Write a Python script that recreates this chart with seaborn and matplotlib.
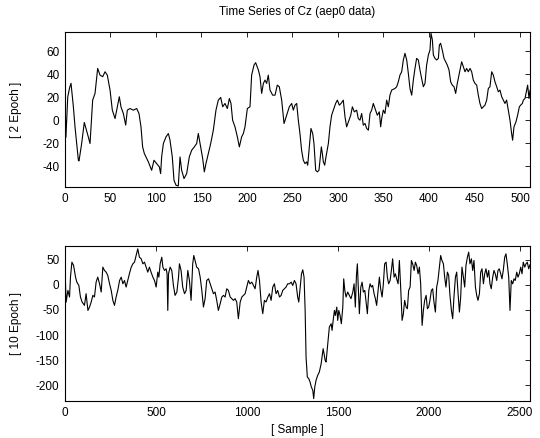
import matplotlib
matplotlib.use("Agg")
import matplotlib.pyplot as plt
import seaborn as sns
import pandas as pd

# ---------------- data ----------------
top_sample = [
    0, 1, 3, 5, 6.6, 9.2, 11, 14.7, 15.4, 18.3,
    21.2, 25.6, 27.5, 30.4, 33, 35.9, 38.5, 41.4, 44, 46.5,
    49.5, 52, 55, 56.8, 59.7, 61.5, 64.1, 66.7, 68.5, 71.4,
    75.1, 78.8, 81.3, 83.5, 85.3, 87.2, 89, 91.6, 95.2, 97.8,
    100.7, 103.7, 105.1, 106.2, 108.1, 111, 113.6, 115.4, 117.9, 119.8,
    122, 124.5, 126.4, 128.2, 130.8, 133.7, 136.6, 139.2, 142.1, 144.7,
    146.5, 148.4, 151.3, 153.1, 154.9, 157.5, 160.1, 163, 165.9, 168.5,
    171.1, 173.3, 175.8, 178.4, 180.6, 182.4, 184.2, 186.8, 189.4, 191.6,
    194.1, 196, 197.8, 200.4, 203.3, 205.1, 207.7, 209.5, 212.5, 214.3,
    216.1, 218, 219.8, 221.6, 223.4, 225.3, 228.2, 230.8, 233.3, 235.5,
    238.1, 240.7, 243.6, 246.5, 249.1, 250.9, 252.7, 254.6, 256.4, 258.2,
    260, 261.9, 263.7, 265.6, 266.7, 268.5, 270.3, 272.2, 273.6, 275.5,
    277.3, 279.1, 280.2, 281.7, 282.8, 283.9, 285.4, 286.8, 289.4, 291.2,
    293, 294.9, 297.4, 299.3, 301.5, 303.3, 305.8, 307.7, 309.5, 312.1,
    314, 315.8, 318, 320.5, 322.3, 324.2, 326, 327.8, 329.7, 331.5,
    333.4, 335.2, 337, 338.8, 340.7, 343.2, 345.4, 346.9, 348, 349.8,
    351.6, 353.5, 355.3, 357.1, 359, 362.6, 364.5, 366.3, 368.1, 370,
    371.8, 373.6, 375.5, 377.3, 379.1, 381, 382.8, 384.6, 386.4, 388.3,
    390.1, 391.9, 393.8, 395.6, 397.4, 399.3, 401.1, 402.2, 403.7, 404.8,
    406.6, 408.4, 410.3, 411.4, 412.8, 415, 416.5, 418.3, 420.1, 422,
    423.8, 425.6, 427.5, 429.3, 431.1, 433.3, 435.9, 437.7, 439.6, 441.4,
    443.2, 445.1, 446.9, 448.7, 450.5, 452.4, 454.2, 456, 457.9, 459.7,
    461.5, 463.4, 465.2, 467, 468.9, 470.7, 472.5, 474.4, 476.2, 478,
    479.9, 481.7, 483.5, 485.3, 487.2, 489, 490.8, 491.9, 493.4, 495.6,
    497.4, 499.3, 500.7, 502.6, 503.7, 505.5, 507.3, 508.4, 509.9, 511,
]
top_value = [
    20, -15, 20, 28, 32, 11.6, -5.8, -34.8, -35.4, -20.3,
    -2, -14.5, -20.3, 17.4, 23.2, 44.9, 39.1, 37.7, 42, 39.1,
    26.1, 8.7, 1.4, 8.7, 20.3, 11.6, 5.8, -4.3, 8.7, 10.1,
    8.7, 10.1, 5.8, -5.8, -23.2, -29, -31.9, -36.2, -43.5, -34.8,
    -37.7, -40.6, -46.4, -31.9, -20.3, -14.5, -11.6, -17.4, -31.9, -52.2,
    -56.5, -57.1, -31.9, -43.5, -50.7, -46.4, -31.9, -26.1, -23.2, -20.3,
    -11.6, -20.3, -33.3, -44.9, -37.7, -29, -20.3, -8.7, 8.7, 17.4,
    19.7, 11.6, 14.5, 10.1, 18.8, 14.5, 0, -5.8, -14.5, -23.2,
    -14.5, -11.6, -5.8, 10.1, 11.6, 39.1, 47.8, 49.9, 43.5, 37.7,
    23.2, 31.9, 34.8, 31.9, 39.1, 26.1, 21.7, 21.7, 30.4, 29,
    17.4, -2.9, 4.3, 11.6, 14.5, 8.7, 13, 14.5, 0, -11.6,
    -26.1, -34.8, -37.7, -36.2, -39.1, -23.2, -7.2, -11.6, -20.3, -43.5,
    -44.9, -43.5, -34.8, -23.2, -29, -36.2, -39.1, -31.9, -20.3, -5.8,
    4.3, 8.7, 14.5, 17.4, 13, 14.5, 17.4, 2.9, -5.8, 0,
    4.3, 11.6, 7.2, 8.7, 1.4, 0, 5.8, -4.3, -2.9, -7.2,
    -8.7, 5.8, 8.7, 14.5, 10.1, 4.3, 7.2, -5.8, 1.4, 8.7,
    5.8, 17.4, 11.6, 21.7, 26.1, 27.5, 29, 33.3, 39.1, 42,
    52.2, 58, 52.2, 40.6, 27.5, 21.7, 34.8, 44.9, 53.6, 52.2,
    43.5, 36.2, 29, 31.9, 47.8, 56.5, 60.9, 75.4, 69.6, 56.5,
    53.6, 52.2, 53.6, 65.2, 66.7, 59.4, 53.6, 50.7, 47.8, 43.5,
    33.3, 30.4, 29, 23.2, 31.9, 40.6, 50.7, 46.4, 42, 44.9,
    42, 44.9, 42, 34.8, 31.9, 30.4, 21.7, 14.5, 10.1, 11.6,
    13, 17.4, 27.5, 29, 42, 39.1, 33.3, 29, 24.6, 26.1,
    20.3, 17.4, 14.5, 17.4, 8.7, 0, -11.6, -17.4, -5.8, -1.4,
    4.3, 11.6, 13, 14.5, 17.4, 18.8, 26.1, 30.4, 18.8, 26,
]

bottom_sample = [
    0, 6, 16, 25, 30, 38, 47, 58, 65, 76,
    85, 94, 107, 116, 126, 135, 144, 153, 162, 171,
    180, 190, 199, 208, 217, 226, 235, 245, 254, 263,
    272, 281, 290, 300, 309, 318, 327, 336, 345, 354,
    364, 373, 382, 391, 400, 409, 419, 428, 437, 446,
    455, 464, 473, 483, 492, 501, 510, 516, 523, 532,
    538, 547, 556, 561, 565, 569, 578, 587, 596, 605,
    615, 624, 629, 638, 647, 657, 666, 675, 684, 693,
    702, 708, 715, 724, 734, 743, 752, 761, 770, 779,
    789, 798, 807, 816, 825, 834, 843, 853, 862, 871,
    880, 889, 898, 908, 917, 926, 935, 944, 953, 963,
    972, 981, 990, 999, 1008, 1017, 1027, 1036, 1045, 1054,
    1061, 1069, 1078, 1087, 1096, 1105, 1115, 1124, 1133, 1142,
    1151, 1160, 1169, 1179, 1188, 1197, 1206, 1215, 1224, 1234,
    1243, 1252, 1261, 1270, 1279, 1285, 1292, 1300, 1307, 1314,
    1320, 1325, 1332, 1340, 1347, 1354, 1362, 1367, 1373, 1380,
    1389, 1398, 1408, 1413, 1419, 1424, 1430, 1435, 1441, 1446,
    1453, 1463, 1468, 1474, 1481, 1486, 1494, 1499, 1505, 1512,
    1519, 1527, 1532, 1538, 1545, 1554, 1563, 1572, 1582, 1589,
    1596, 1602, 1607, 1613, 1618, 1626, 1633, 1640, 1648, 1655,
    1662, 1670, 1677, 1684, 1691, 1699, 1706, 1713, 1721, 1728,
    1735, 1743, 1750, 1757, 1765, 1772, 1779, 1787, 1794, 1801,
    1809, 1816, 1823, 1831, 1838, 1845, 1853, 1860, 1867, 1875,
    1882, 1889, 1897, 1904, 1911, 1919, 1926, 1933, 1941, 1948,
    1955, 1963, 1970, 1977, 1985, 1992, 1999, 2006, 2014, 2021,
    2028, 2036, 2043, 2050, 2058, 2065, 2072, 2080, 2087, 2094,
    2102, 2109, 2116, 2124, 2131, 2138, 2146, 2153, 2160, 2168,
    2175, 2182, 2190, 2197, 2204, 2212, 2219, 2226, 2234, 2241,
    2248, 2256, 2263, 2270, 2278, 2285, 2292, 2300, 2307, 2314,
    2322, 2329, 2336, 2343, 2351, 2358, 2365, 2373, 2380, 2387,
    2395, 2402, 2409, 2417, 2424, 2431, 2439, 2446, 2453, 2461,
    2468, 2475, 2483, 2490, 2497, 2505, 2512, 2519, 2527, 2534,
    2541, 2549, 2556,
]
bottom_value = [
    35.3, -34.7, -11.2, -24.4, 15.1, 44.9, 38.6, 15.1, 5.2, -1.3,
    -24.4, -34.3, -41, -17.8, -51, -44.3, -34.3, -21.1, -24.4, 5.2,
    15.1, 1.9, -14.5, 35, 28.4, 25.1, 18.5, 1.9, -11.2, -31,
    -41, -24.4, -11.2, 8.5, 15.1, 1.9, 8.5, -4.6, 8.5, 21.8,
    35, 41.6, 44.9, 58.1, 71.4, 54.8, 51.5, 41.6, 44.9, 35,
    25.1, 35, 25.1, 15.1, 8.5, -4.6, 25.1, 15.1, 41.6, 54.8,
    35, 28.4, 31.7, 21.8, -51, 21.8, 35, 28.4, -1.4, -21.1,
    -14.5, 15.1, 41.6, 28.4, -4.6, -17.8, -11.2, 28.4, 8.5, -31,
    41.6, 58.1, 48.2, 35, 31.7, 15.1, -11.2, -44.3, -27.7, 8.5,
    11.8, 1.9, -8, -17.8, -14.5, -31, -51, -37.6, -24.4, -21.1,
    -24.4, -8, -11.2, -24.4, -27.7, -31, -27.7, -34.3, -67.4, -34.3,
    -24.4, -21.1, -17.8, -4.6, 8.5, 1.9, 5.2, -1.3, -8, 15.1,
    28.4, 8.5, -34.3, -57.5, -31, -34.3, -24.4, -17.8, -31, -4.6,
    1.9, -17.8, -11.2, -24.4, -21.1, -11.2, -8, -4.6, 1.9, 1.9,
    5.2, -1.4, 8.5, 1.9, -24.4, -34.3, -8, 21.8, 29.7, 15.1,
    -51, -143.6, -183.3, -186.6, -193.2, -203.1, -209.7, -226.3, -203.1, -189.9,
    -180, -173.4, -156.9, -143.6, -127.1, -137, -150.2, -153.5, -130.4, -110.6,
    -84.1, -77.5, -90.7, -70.9, -51, -61, -44.4, -70.9, -51, -61,
    -77.5, -44.4, 11.8, -11.2, -24.4, -14.5, -21.1, -27.7, -14.5, 1.9,
    -44.4, 18.5, 41.6, -14.5, -57.5, -4.6, 5.2, -14.5, -11.2, -34.3,
    -57.5, -11.2, 1.9, -4.6, -1.3, -17.8, -27.7, -41, -11.2, 15.1,
    -8, -24.4, 1.9, 41.6, 44.9, 15.1, 1.9, 8.5, 28.4, 51.5,
    15.1, 21.8, 11.8, 1.9, 48.2, -4.6, -70.8, -57.5, -31, -44.3,
    -47.7, -11.2, -4.6, 48.2, 41.6, 28.4, 44.9, 38.3, 21.8, 35,
    1.9, -80.7, -51, -31, -21.1, -47.7, -44.3, -31, -11.2, -8,
    -34.3, -54.3, -4.6, 8.5, 35, 58.1, 48.2, 41.6, 15.1, -4.6,
    25.1, 18.5, -21.1, -51, -67.4, -24.4, 15.1, 25.1, -14.5, -54.3,
    -24.4, 35, 15.1, -4.6, 38.3, 54.8, 64.8, 41.6, 51.5, 28.4,
    48.2, -4.6, -21.1, -31, -17.8, 25.1, 31.7, 1.9, 21.8, 31.7,
    15.1, 28.4, 1.9, -8, 15.1, 28.4, 21.8, 8.5, 28.4, 31.7,
    21.8, 11.8, 28.4, 54.8, 61.4, 41.6, 15.1, -51, 8.5, 1.9,
    11.8, 8.5, 25.1, 15.1, 21.8, 35, 21.8, 44.9, 35, 41.6,
    44.9, 31.7, 40,
]

title_text = "Time Series of Cz (aep0 data)"
top_ylabel = "[ 2 Epoch ]"
bottom_ylabel = "[ 10 Epoch ]"
bottom_xlabel = "[ Sample ]"
top_xticks = [0, 50, 100, 150, 200, 250, 300, 350, 400, 450, 500]
top_yticks = [-40, -20, 0, 20, 40, 60]
bottom_xticks = [0, 500, 1000, 1500, 2000, 2500]
bottom_yticks = [-200, -150, -100, -50, 0, 50]

# ---------------- drawing ----------------
sns.set_theme(style="white")
plt.rcParams["font.family"] = ["Liberation Sans", "DejaVu Sans"]
plt.rcParams["axes.unicode_minus"] = False
plt.rcParams["text.color"] = "black"
plt.rcParams["axes.labelcolor"] = "black"

top_df = pd.DataFrame({"sample": top_sample, "value": top_value})
bottom_df = pd.DataFrame({"sample": bottom_sample, "value": bottom_value})

fig = plt.figure(figsize=(5.40, 4.38), dpi=100)
ax1 = fig.add_axes([65 / 540, 1 - 187 / 438, 465 / 540, 155 / 438])
ax2 = fig.add_axes([65 / 540, 1 - 401 / 438, 465 / 540, 155 / 438])

sns.lineplot(data=top_df, x="sample", y="value", ax=ax1, color="black",
             linewidth=0.8, sort=False, estimator=None)
sns.lineplot(data=bottom_df, x="sample", y="value", ax=ax2, color="black",
             linewidth=0.8, sort=False, estimator=None)

ax1.set_xlim(0, 511)
ax1.set_ylim(-58, 76.5)
ax2.set_xlim(0, 2556)
ax2.set_ylim(-231, 77)

ax1.set_xticks(top_xticks)
ax1.set_yticks(top_yticks)
ax2.set_xticks(bottom_xticks)
ax2.set_yticks(bottom_yticks)

for ax in (ax1, ax2):
    ax.set_facecolor("white")
    for sp in ax.spines.values():
        sp.set_visible(True)
        sp.set_color("black")
        sp.set_linewidth(0.8)
    ax.tick_params(direction="in", top=True, right=True, length=3.5,
                   width=0.6, colors="black", labelsize=8.5, pad=4)
    ax.set_xlabel("")
    ax.set_ylabel("")

ax1.set_ylabel(top_ylabel, fontsize=8.5, color="black")
ax1.yaxis.set_label_coords(-0.0925, 0.5)
ax2.set_ylabel(bottom_ylabel, fontsize=8.5, color="black")
ax2.yaxis.set_label_coords(-0.0925, 0.5)
ax2.set_xlabel(bottom_xlabel, fontsize=8.5, color="black")
ax2.xaxis.set_label_coords(0.5, -0.148)

fig.text(297 / 540, 1 - 12 / 438, title_text, ha="center", va="center",
         fontsize=8.5, color="black")

fig.savefig("out.png", dpi=100, facecolor="white")
